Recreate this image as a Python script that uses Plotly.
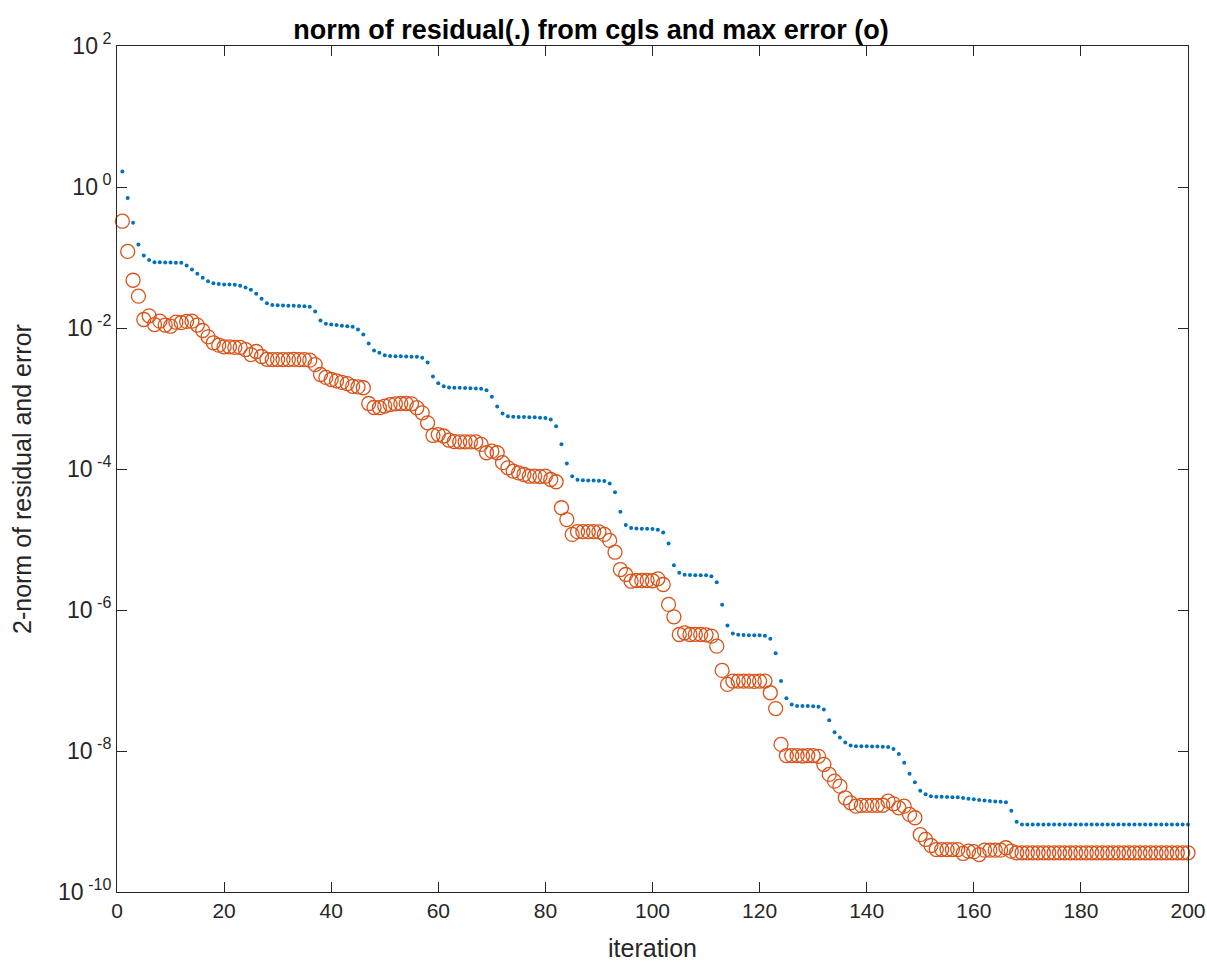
import plotly.graph_objects as go

iterations = list(range(1, 201))

residual_norm = [
    1.66, 0.70, 0.31, 0.153, 0.107, 0.092, 0.0857, 0.0855, 0.085, 0.085,
    0.0845, 0.084, 0.077, 0.0676, 0.059, 0.0515, 0.046, 0.0432, 0.042, 0.0414,
    0.0414, 0.0412, 0.0397, 0.0375, 0.0348, 0.0305, 0.0259, 0.0225, 0.0212, 0.021,
    0.0208, 0.0207, 0.0206, 0.0205, 0.0203, 0.0200, 0.0171, 0.01277, 0.01146, 0.0112,
    0.0110, 0.0108, 0.0106, 0.0104, 0.00953, 0.0081, 0.00603, 0.0048, 0.00445, 0.00411,
    0.0040, 0.00398, 0.00396, 0.00394, 0.00392, 0.0039, 0.00378, 0.00324, 0.00205, 0.00165,
    0.00149, 0.00143, 0.00142, 0.00142, 0.00141, 0.0014, 0.00139, 0.00138, 0.00131, 0.00106,
    0.00077, 0.000612, 0.000561, 0.00055, 0.000548, 0.000545, 0.000542, 0.00054, 0.000535, 0.00053,
    0.000504, 0.000405, 0.000225, 0.00012, 7.9e-5, 7.03e-5, 6.9e-5, 6.88e-5, 6.86e-5, 6.84e-5,
    6.73e-5, 6.22e-5, 4.69e-5, 2.47e-5, 1.60e-5, 1.46e-5, 1.43e-5, 1.42e-5, 1.42e-5, 1.41e-5,
    1.37e-5, 1.26e-5, 8.8e-6, 4.32e-6, 3.37e-6, 3.16e-6, 3.13e-6, 3.12e-6, 3.11e-6, 3.1e-6,
    3.02e-6, 2.48e-6, 1.19e-6, 6.03e-7, 4.64e-7, 4.45e-7, 4.41e-7, 4.4e-7, 4.39e-7, 4.38e-7,
    4.31e-7, 3.90e-7, 2.44e-7, 9.8e-8, 5.6e-8, 4.57e-8, 4.36e-8, 4.35e-8, 4.34e-8, 4.33e-8,
    4.24e-8, 3.88e-8, 2.74e-8, 1.85e-8, 1.55e-8, 1.32e-8, 1.20e-8, 1.17e-8, 1.17e-8, 1.17e-8,
    1.16e-8, 1.16e-8, 1.15e-8, 1.14e-8, 1.07e-8, 9.1e-9, 6.8e-9, 4.75e-9, 3.61e-9, 2.72e-9,
    2.44e-9, 2.29e-9, 2.25e-9, 2.24e-9, 2.22e-9, 2.21e-9, 2.2e-9, 2.15e-9, 2.1e-9, 2.06e-9,
    2.02e-9, 1.98e-9, 1.95e-9, 1.92e-9, 1.9e-9, 1.88e-9, 1.42e-9, 9.9e-10, 9.1e-10, 9.1e-10,
    9.1e-10, 9.1e-10, 9.1e-10, 9.1e-10, 9.1e-10, 9.1e-10, 9.1e-10, 9.1e-10, 9.1e-10, 9.1e-10,
    9.1e-10, 9.1e-10, 9.1e-10, 9.1e-10, 9.1e-10, 9.1e-10, 9.1e-10, 9.1e-10, 9.1e-10, 9.1e-10,
    9.1e-10, 9.1e-10, 9.1e-10, 9.1e-10, 9.1e-10, 9.1e-10, 9.1e-10, 9.1e-10, 9.1e-10, 9.1e-10,
]

max_error = [
    0.327, 0.122, 0.0476, 0.0283, 0.0132, 0.0149, 0.0112, 0.0125, 0.0110, 0.0106,
    0.0121, 0.0119, 0.0124, 0.0125, 0.0110, 0.00922, 0.0075, 0.00617, 0.0057, 0.0054,
    0.0054, 0.0053, 0.0053, 0.00495, 0.0042, 0.00464, 0.00394, 0.0036, 0.00357, 0.00357,
    0.00356, 0.00357, 0.00358, 0.00357, 0.00355, 0.0035, 0.00303, 0.00219, 0.00199, 0.00186,
    0.00178, 0.00169, 0.00163, 0.00149, 0.00146, 0.00142, 0.00085, 0.000745, 0.00074, 0.00078,
    0.00082, 0.00084, 0.00085, 0.00085, 0.00084, 0.00074, 0.000627, 0.000452, 0.000299, 0.000308,
    0.000294, 0.000256, 0.000245, 0.000243, 0.000243, 0.000242, 0.000243, 0.000223, 0.00017, 0.000179,
    0.00017, 0.000123, 0.000104, 9.3e-5, 8.8e-5, 8.35e-5, 7.9e-5, 7.9e-5, 7.8e-5, 7.9e-5,
    7.1e-5, 6.59e-5, 2.82e-5, 1.92e-5, 1.18e-5, 1.29e-5, 1.29e-5, 1.29e-5, 1.29e-5, 1.28e-5,
    1.18e-5, 9.7e-6, 6.6e-6, 3.75e-6, 3.19e-6, 2.56e-6, 2.62e-6, 2.62e-6, 2.62e-6, 2.6e-6,
    2.77e-6, 2.30e-6, 1.20e-6, 8.0e-7, 4.49e-7, 4.75e-7, 4.49e-7, 4.5e-7, 4.49e-7, 4.45e-7,
    4.25e-7, 3.07e-7, 1.39e-7, 8.8e-8, 9.8e-8, 9.8e-8, 9.8e-8, 9.8e-8, 9.7e-8, 9.8e-8,
    9.8e-8, 6.7e-8, 4.0e-8, 1.24e-8, 8.6e-9, 8.6e-9, 8.6e-9, 8.5e-9, 8.6e-9, 8.6e-9,
    8.4e-9, 6.44e-9, 4.65e-9, 3.73e-9, 3.17e-9, 2.17e-9, 1.84e-9, 1.65e-9, 1.69e-9, 1.69e-9,
    1.69e-9, 1.69e-9, 1.7e-9, 1.94e-9, 1.78e-9, 1.56e-9, 1.65e-9, 1.26e-9, 1.13e-9, 6.5e-10,
    5.56e-10, 4.57e-10, 4.0e-10, 4.0e-10, 4.0e-10, 4.0e-10, 4.0e-10, 3.52e-10, 3.79e-10, 3.73e-10,
    3.4e-10, 3.92e-10, 3.92e-10, 3.92e-10, 3.92e-10, 4.24e-10, 3.79e-10, 3.6e-10, 3.6e-10, 3.6e-10,
    3.6e-10, 3.6e-10, 3.6e-10, 3.6e-10, 3.6e-10, 3.6e-10, 3.6e-10, 3.6e-10, 3.6e-10, 3.6e-10,
    3.6e-10, 3.6e-10, 3.6e-10, 3.6e-10, 3.6e-10, 3.6e-10, 3.6e-10, 3.6e-10, 3.6e-10, 3.6e-10,
    3.6e-10, 3.6e-10, 3.6e-10, 3.6e-10, 3.6e-10, 3.6e-10, 3.6e-10, 3.6e-10, 3.6e-10, 3.6e-10,
]

x_ticks = [0, 20, 40, 60, 80, 100, 120, 140, 160, 180, 200]
y_tick_vals = [1e2, 1e0, 1e-2, 1e-4, 1e-6, 1e-8, 1e-10]
y_tick_text = ["10<sup> 2</sup>", "10<sup> 0</sup>", "10<sup> -2</sup>", "10<sup> -4</sup>",
               "10<sup> -6</sup>", "10<sup> -8</sup>", "10<sup> -10</sup>"]

AX = "#262626"
FONT = "Liberation Sans, Arial, Helvetica, sans-serif"

W, H = 1207, 963
L, R, T, B = 117, 19, 46, 71
PW, PH = W - L - R, H - T - B

fig = go.Figure()
fig.add_trace(go.Scatter(
    x=iterations, y=residual_norm, mode="markers",
    marker=dict(color="#0072BD", size=4, line=dict(width=0)),
    name="residual", cliponaxis=False,
))
fig.add_trace(go.Scatter(
    x=iterations, y=max_error, mode="markers",
    marker=dict(symbol="circle-open", color="#D95319", size=14, line=dict(width=1.3, color="#D95319")),
    name="max error", cliponaxis=False,
))

fig.update_layout(
    width=W, height=H,
    margin=dict(l=L, r=R, t=T, b=B),
    plot_bgcolor="white", paper_bgcolor="white",
    showlegend=False,
    font=dict(family=FONT, color=AX, size=21),
    title=dict(
        text="<b>norm of residual(.) from cgls and max error (o)</b>",
        x=(591 - L) / PW, xref="paper", xanchor="center",
        y=1 - 30 / H, yref="container", yanchor="middle",
        font=dict(family=FONT, size=27, color="black"),
    ),
    annotations=[
        dict(text="iteration", x=0.5, xref="paper", xanchor="center",
             y=-(948 - (T + PH)) / PH, yref="paper", yanchor="middle",
             showarrow=False, font=dict(family=FONT, size=25, color=AX)),
        dict(text="2-norm of residual and error", textangle=-90,
             x=(22 - L) / PW, xref="paper", xanchor="center",
             y=1 - (479 - T) / PH, yref="paper", yanchor="middle",
             showarrow=False, font=dict(family=FONT, size=25, color=AX)),
    ],
)

fig.update_xaxes(
    range=[0, 200], tickvals=x_ticks, ticktext=[str(v) for v in x_ticks],
    ticks="inside", ticklen=10, tickcolor=AX, tickwidth=1,
    showline=True, linecolor=AX, linewidth=1, mirror="ticks",
    showgrid=False, zeroline=False, automargin=False,
    tickfont=dict(size=21, color=AX, family=FONT),
)
fig.update_yaxes(
    type="log", range=[-10, 2], tickvals=y_tick_vals, ticktext=y_tick_text,
    ticks="inside", ticklen=10, tickcolor=AX, tickwidth=1,
    showline=True, linecolor=AX, linewidth=1, mirror="ticks",
    showgrid=False, zeroline=False, automargin=False,
    tickfont=dict(size=23, color=AX, family=FONT),
)

fig.write_html("out.html")
